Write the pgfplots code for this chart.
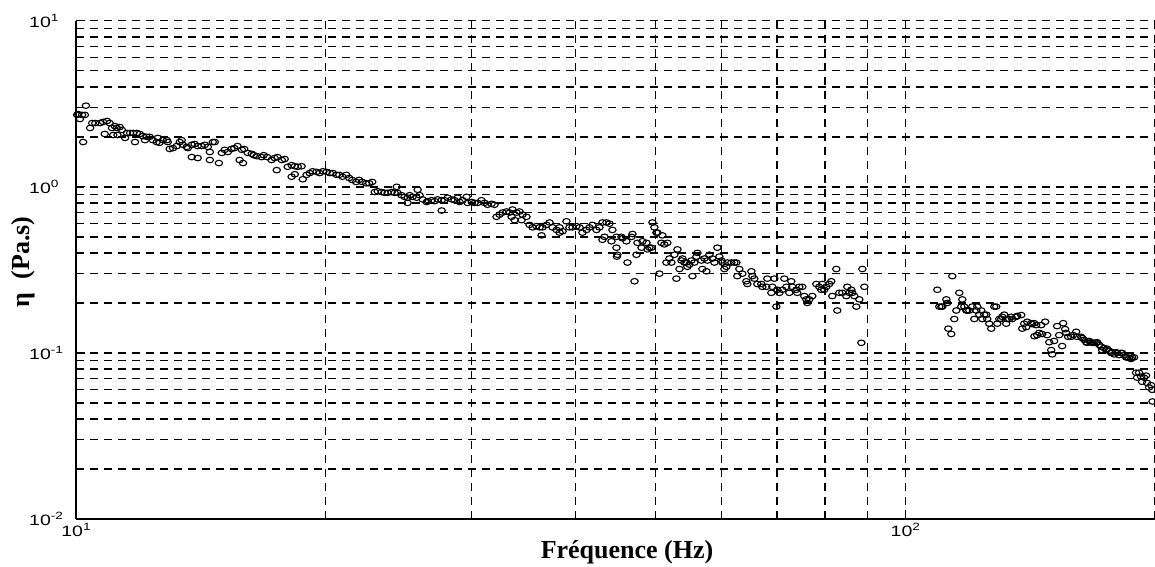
\documentclass[border=0pt]{standalone}
\usepackage{fontspec}
\setmainfont{Liberation Serif}
\newfontfamily\helv{Liberation Sans}
\usepackage{graphicx}
\usepackage{pgfplots}
\pgfplotsset{compat=1.18}
\usepackage{pgfplotstable}
\newcommand{\tl}[1]{\scalebox{1.3}[1]{10\raisebox{6pt}{\fontsize{10.5}{10.5}\selectfont #1}}}

\pgfplotstableread{
f eta
10.03 2.71
10.06 2.74
10.17 2.71
10.25 2.71
10.28 3.08
10.20 1.86
10.11 2.56
10.40 2.26
10.46 2.42
10.55 2.42
10.69 2.42
10.78 2.46
10.90 2.49
10.98 2.42
11.05 2.26
11.14 2.32
11.20 2.26
11.29 2.29
11.36 2.20
10.83 2.08
11.09 2.05
11.22 2.05
11.46 1.97
11.52 2.11
11.62 2.11
11.72 2.11
11.84 2.11
11.94 2.08
12.04 2.02
12.17 2.00
12.27 2.00
12.38 1.91
12.51 1.86
12.55 1.97
12.61 1.84
12.73 1.91
12.87 1.91
12.90 1.86
11.78 1.86
12.11 1.91
12.97 1.69
13.09 1.71
13.23 1.76
13.34 1.86
13.41 1.91
13.45 1.79
13.60 1.74
13.64 1.71
13.79 1.79
13.90 1.81
14.02 1.76
14.17 1.76
14.30 1.79
14.42 1.74
14.50 1.62
14.62 1.86
14.70 1.86
13.79 1.51
14.02 1.49
14.50 1.45
14.87 1.39
14.99 1.60
15.11 1.67
15.24 1.62
15.40 1.69
15.52 1.71
15.66 1.76
15.85 1.67
15.95 1.69
16.11 1.60
16.29 1.58
16.38 1.55
16.52 1.53
16.74 1.51
16.84 1.55
17.00 1.51
17.21 1.45
17.36 1.49
17.50 1.51
17.71 1.45
17.85 1.47
18.00 1.32
18.20 1.35
18.36 1.33
18.51 1.32
18.71 1.33
15.75 1.45
15.90 1.39
17.46 1.26
18.20 1.15
18.36 1.19
18.77 1.11
18.97 1.18
19.13 1.21
19.29 1.24
19.50 1.23
19.67 1.21
19.85 1.24
20.06 1.23
20.23 1.21
20.40 1.21
20.62 1.18
20.77 1.18
20.95 1.15
21.18 1.18
21.35 1.13
21.53 1.10
21.77 1.07
21.94 1.10
22.13 1.07
22.38 1.05
22.57 1.05
22.76 1.07
22.92 0.93
23.11 0.94
23.36 0.93
23.56 0.92
23.76 0.92
24.02 0.93
24.22 0.92
24.36 1.00
24.42 0.92
24.69 0.89
24.90 0.87
25.11 0.86
25.25 0.89
25.46 0.87
25.75 0.86
25.82 0.96
25.96 0.89
26.18 0.84
26.47 0.81
26.55 0.82
26.84 0.83
27.07 0.82
27.29 0.84
27.60 0.83
27.83 0.83
28.06 0.86
28.38 0.84
28.61 0.83
28.85 0.86
29.01 0.81
29.25 0.83
29.58 0.87
29.66 0.80
30.00 0.81
30.24 0.80
30.49 0.80
30.83 0.83
31.09 0.80
31.35 0.78
31.70 0.79
31.96 0.78
25.11 0.80
27.60 0.72
32.14 0.66
32.41 0.68
32.68 0.70
33.05 0.71
33.33 0.70
33.60 0.73
33.98 0.70
34.26 0.71
34.55 0.68
34.93 0.66
33.79 0.63
34.45 0.63
33.51 0.66
35.23 0.59
35.52 0.57
35.91 0.58
36.22 0.57
36.52 0.57
36.93 0.59
37.24 0.61
37.55 0.57
37.97 0.55
38.29 0.57
38.61 0.54
39.03 0.62
39.36 0.57
39.69 0.57
40.13 0.58
40.47 0.57
40.80 0.53
41.26 0.55
41.60 0.57
41.95 0.59
42.42 0.55
42.77 0.57
43.13 0.61
43.61 0.61
43.98 0.60
44.34 0.55
44.84 0.50
36.42 0.51
38.29 0.53
44.84 0.43
44.89 0.38
43.37 0.50
43.13 0.48
44.22 0.47
44.96 0.39
45.46 0.50
45.59 0.49
46.10 0.47
46.23 0.35
46.75 0.50
46.88 0.52
47.14 0.27
47.40 0.39
47.53 0.46
48.07 0.43
48.20 0.47
48.74 0.46
48.87 0.42
49.14 0.43
49.41 0.43
49.55 0.61
49.82 0.57
50.10 0.53
50.24 0.53
50.94 0.51
50.80 0.46
51.22 0.45
51.65 0.46
50.52 0.30
51.51 0.35
51.94 0.37
52.23 0.35
52.67 0.39
53.11 0.42
53.41 0.32
52.96 0.28
53.71 0.36
53.85 0.37
54.15 0.35
54.45 0.35
54.60 0.33
54.90 0.34
55.21 0.36
55.37 0.29
55.67 0.35
55.98 0.38
56.14 0.40
56.76 0.36
57.24 0.37
56.92 0.32
57.56 0.31
57.72 0.36
58.04 0.39
58.52 0.37
58.85 0.35
59.34 0.43
59.67 0.38
60.00 0.36
60.17 0.35
60.51 0.32
60.84 0.33
61.01 0.35
61.69 0.35
62.20 0.35
62.55 0.35
62.72 0.29
63.07 0.32
63.60 0.30
64.31 0.27
64.49 0.26
65.21 0.31
65.39 0.29
65.75 0.28
66.30 0.26
67.04 0.26
67.23 0.25
67.98 0.25
68.17 0.28
68.93 0.23
69.12 0.25
69.51 0.28
69.90 0.19
70.09 0.24
70.48 0.23
71.07 0.24
71.46 0.28
71.86 0.25
72.46 0.23
72.86 0.27
73.06 0.25
73.88 0.24
74.08 0.23
74.50 0.25
75.12 0.25
75.54 0.22
75.96 0.21
76.17 0.20
76.60 0.21
77.24 0.22
78.10 0.26
78.75 0.25
79.19 0.24
79.41 0.26
79.85 0.24
80.29 0.25
80.96 0.26
81.41 0.27
81.64 0.22
82.55 0.32
82.78 0.18
83.24 0.23
83.94 0.23
84.88 0.22
85.11 0.25
85.59 0.23
86.07 0.24
86.31 0.23
86.79 0.22
87.28 0.19
88.01 0.21
88.50 0.115
88.75 0.32
89.24 0.25
109.27 0.24
109.88 0.19
110.49 0.19
110.80 0.19
112.04 0.21
112.35 0.20
112.66 0.14
113.60 0.13
113.92 0.29
114.55 0.16
115.19 0.18
116.15 0.23
116.80 0.19
117.12 0.21
117.77 0.19
118.43 0.18
118.76 0.18
119.42 0.18
120.41 0.19
121.09 0.16
121.76 0.18
122.10 0.19
122.78 0.17
123.47 0.18
123.81 0.16
124.50 0.17
125.18 0.17
125.52 0.16
126.22 0.15
126.92 0.14
127.99 0.19
128.70 0.19
129.06 0.15
129.78 0.16
130.50 0.16
130.86 0.165
131.58 0.17
132.31 0.15
132.68 0.16
133.42 0.16
134.16 0.165
134.54 0.16
136.05 0.165
136.43 0.167
137.95 0.169
138.33 0.14
139.10 0.15
139.88 0.143
140.26 0.154
141.82 0.151
142.21 0.149
143.00 0.151
143.80 0.147
143.10 0.126
144.20 0.128
145.00 0.132
145.81 0.147
146.21 0.130
147.44 0.154
148.26 0.128
149.09 0.116
149.92 0.104
150.34 0.098
151.16 0.118
152.42 0.145
153.27 0.128
154.55 0.110
154.98 0.151
155.85 0.139
156.28 0.132
157.15 0.125
158.46 0.125
159.34 0.128
160.68 0.134
161.12 0.125
162.92 0.125
163.37 0.123
164.28 0.120
165.19 0.116
165.65 0.115
166.57 0.118
167.50 0.116
167.97 0.115
168.90 0.115
169.84 0.115
170.31 0.116
171.26 0.112
172.21 0.109
172.69 0.104
173.65 0.107
174.62 0.104
175.10 0.106
176.08 0.103
177.06 0.100
177.55 0.101
178.54 0.098
179.53 0.101
180.03 0.100
181.03 0.097
182.04 0.100
182.54 0.100
183.56 0.097
184.57 0.094
185.09 0.094
186.12 0.093
187.15 0.092
187.67 0.094
188.72 0.094
189.77 0.076
190.30 0.071
191.36 0.076
192.42 0.072
192.96 0.067
194.03 0.071
195.11 0.073
195.65 0.066
196.74 0.062
197.84 0.064
198.39 0.060
198.60 0.051
}\etadata

\begin{document}
\begin{tikzpicture}
\begin{axis}[
  at={(76pt,47pt)}, anchor=south west,
  scale only axis, width=1079pt, height=498.3pt,
  xmode=log, ymode=log,
  xmin=10, xmax=200, ymin=0.01, ymax=10,
  axis x line*=bottom, axis y line*=left,
  axis line style={black, line width=1.6pt},
  xtick={10,100},
  xticklabels={\tl{1},\tl{2}},
  minor xtick={20,30,40,50,60,70,80,90,200},
  ytick={0.01,0.1,1,10},
  yticklabels={\tl{-2},\tl{-1},\tl{0},\tl{1}},
  minor ytick={0.02,0.03,0.04,0.05,0.06,0.07,0.08,0.09,0.2,0.3,0.4,0.5,0.6,0.7,0.8,0.9,2,3,4,5,6,7,8,9},
  grid=both,
  major grid style={black, line width=1.4pt, dash pattern=on 8pt off 6pt},
  minor grid style={black, line width=1.4pt, dash pattern=on 8pt off 6pt},
  tick align=inside,
  major tick length=9pt, minor tick length=5pt,
  tick style={black, line width=1.3pt},
  tick label style={font=\helv\fontsize{15}{15}\selectfont, inner sep=0pt},
  xticklabel style={anchor=north, yshift=-4pt},
  yticklabel style={anchor=west, xshift=-47pt},
  xlabel={Fréquence (Hz)},
  ylabel={η~~(Pa.s)},
  label style={font=\fontsize{26}{26}\selectfont\bfseries},
  xlabel style={at={(axis description cs:0.5107,-0.0662)}, anchor=center},
  ylabel style={at={(axis description cs:-0.0491,0.516)}, anchor=center},
  clip=false,
]
\addplot[only marks, mark=o, mark size=3.7pt,
  mark options={yscale=0.75, line width=1.1pt, black}]
  table[x=f, y=eta] {\etadata};
\end{axis}
\pgfresetboundingbox
\path[use as bounding box] (0,0) rectangle (1155pt,566pt);
\end{tikzpicture}
\end{document}
